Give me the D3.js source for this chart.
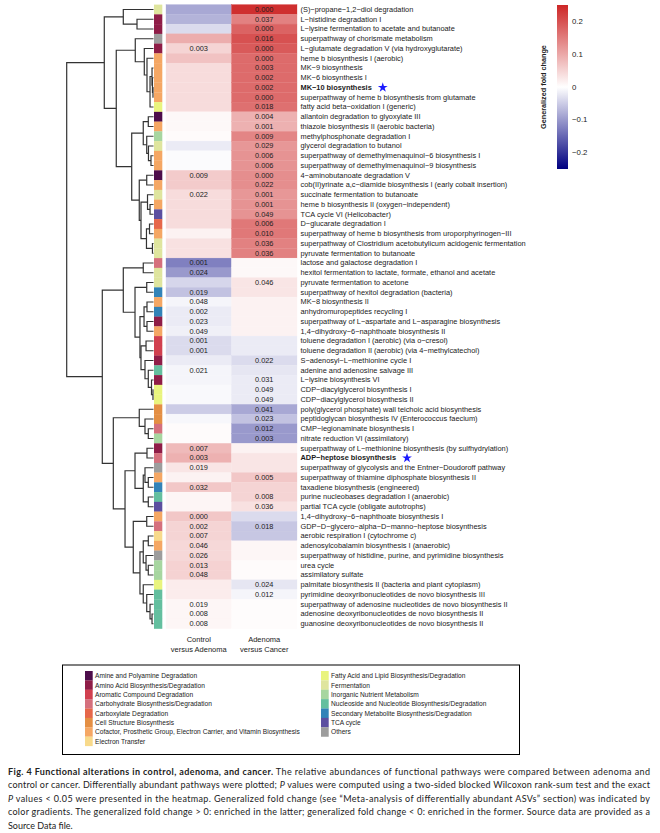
<!DOCTYPE html>
<html><head><meta charset="utf-8">
<script src="https://cdn.jsdelivr.net/npm/d3@7"></script>
<style>body{margin:0;background:#fff}svg{display:block}</style>
</head><body><svg id="chart" width="660" height="833"></svg>
<script>
// ---------------- data ----------------
const pathways = [
"(S)−propane−1,2−diol degradation","L−histidine degradation I","L−lysine fermentation to acetate and butanoate",
"superpathway of chorismate metabolism","L−glutamate degradation V (via hydroxyglutarate)","heme b biosynthesis I (aerobic)",
"MK−9 biosynthesis","MK−6 biosynthesis I","MK−10 biosynthesis","superpathway of heme b biosynthesis from glutamate",
"fatty acid beta−oxidation I (generic)","allantoin degradation to glyoxylate III","thiazole biosynthesis II (aerobic bacteria)",
"methylphosphonate degradation I","glycerol degradation to butanol","superpathway of demethylmenaquinol−6 biosynthesis I",
"superpathway of demethylmenaquinol−9 biosynthesis","4−aminobutanoate degradation V",
"cob(II)yrinate a,c−diamide biosynthesis I (early cobalt insertion)","succinate fermentation to butanoate",
"heme b biosynthesis II (oxygen−independent)","TCA cycle VI (Helicobacter)","D−glucarate degradation I",
"superpathway of heme b biosynthesis from uroporphyrinogen−III","superpathway of Clostridium acetobutylicum acidogenic fermentation",
"pyruvate fermentation to butanoate","lactose and galactose degradation I","hexitol fermentation to lactate, formate, ethanol and acetate",
"pyruvate fermentation to acetone","superpathway of hexitol degradation (bacteria)","MK−8 biosynthesis II",
"anhydromuropeptides recycling I","superpathway of L−aspartate and L−asparagine biosynthesis","1,4−dihydroxy−6−naphthoate biosynthesis II",
"toluene degradation I (aerobic) (via o−cresol)","toluene degradation II (aerobic) (via 4−methylcatechol)","S−adenosyl−L−methionine cycle I",
"adenine and adenosine salvage III","L−lysine biosynthesis VI","CDP−diacylglycerol biosynthesis I","CDP−diacylglycerol biosynthesis II",
"poly(glycerol phosphate) wall teichoic acid biosynthesis","peptidoglycan biosynthesis IV (Enterococcus faecium)",
"CMP−legionaminate biosynthesis I","nitrate reduction VI (assimilatory)","superpathway of L−methionine biosynthesis (by sulfhydrylation)",
"ADP−heptose biosynthesis","superpathway of glycolysis and the Entner−Doudoroff pathway","superpathway of thiamine diphosphate biosynthesis II",
"taxadiene biosynthesis (engineered)","purine nucleobases degradation I (anaerobic)","partial TCA cycle (obligate autotrophs)",
"1,4−dihydroxy−6−naphthoate biosynthesis I","GDP−D−glycero−alpha−D−manno−heptose biosynthesis","aerobic respiration I (cytochrome c)",
"adenosylcobalamin biosynthesis I (anaerobic)","superpathway of histidine, purine, and pyrimidine biosynthesis","urea cycle",
"assimilatory sulfate","palmitate biosynthesis II (bacteria and plant cytoplasm)","pyrimidine deoxyribonucleotides de novo biosynthesis III",
"superpathway of adenosine nucleotides de novo biosynthesis II","adenosine deoxyribonucleotides de novo biosynthesis II",
"guanosine deoxyribonucleotides de novo biosynthesis II"];

const highlighted = ["MK−10 biosynthesis","ADP−heptose biosynthesis"];

const categories = ["Amine and Polyamine Degradation","Amino Acid Biosynthesis/Degradation","Aromatic Compound Degradation",
"Carbohydrate Biosynthesis/Degradation","Carboxylate Degradation","Cell Structure Biosynthesis",
"Cofactor, Prosthetic Group, Electron Carrier, and Vitamin Biosynthesis","Electron Transfer",
"Fatty Acid and Lipid Biosynthesis/Degradation","Fermentation","Inorganic Nutrient Metabolism",
"Nucleoside and Nucleotide Biosynthesis/Degradation","Secondary Metabolite Biosynthesis/Degradation","TCA cycle","Others"];
const categoryColors = ["#4d0d4b","#8f1d47","#d1404f","#d5707d","#e6674a","#e48f44","#f5a764","#f8da8b",
"#e9f47e","#dfe59e","#a7d6a0","#64bf9f","#3283b8","#5c4fa0","#9d9d9d"];
// category index of each pathway row
const rowCategory = [9,1,1,14,1,6,6,6,6,6,8,0,6,10,9,6,6,0,6,9,6,13,4,6,9,9,3,9,9,12,6,12,1,6,2,2,1,11,1,8,8,5,5,3,10,1,3,14,6,12,11,13,6,3,7,6,14,10,10,8,11,11,11,11];

const columnLabels = [["Control","versus Adenoma"],["Adenoma","versus Cancer"]];
// generalized fold change
const foldControlAdenoma = [-0.085,-0.075,-0.035,0.095,0.05,0.07,0.04,0.04,0.04,0.04,0.04,0.008,0.008,0.005,-0.02,-0.004,-0.004,0.06,0.06,0.04,0.04,0.04,0.04,0.015,0.035,0.035,
-0.125,-0.1,-0.04,-0.06,-0.01,-0.02,-0.02,-0.015,-0.035,-0.035,-0.02,-0.01,-0.01,-0.006,-0.006,-0.05,-0.008,0.005,0.005,0.08,0.09,0.03,0.015,0.065,0.012,0.012,
0.065,0.05,0.05,0.045,0.045,0.052,0.052,0.022,0.022,0.01,0.01,0.01];
const foldAdenomaCancer = [0.24,0.145,0.18,0.2,0.19,0.17,0.17,0.17,0.17,0.17,0.165,0.09,0.09,0.14,0.12,0.125,0.125,0.13,0.13,0.12,0.125,0.125,0.155,0.155,0.145,0.145,
0.008,0.008,0.03,0.03,0.015,0.015,0.015,0.015,-0.02,-0.02,-0.035,-0.025,-0.02,-0.02,-0.02,-0.085,-0.06,-0.1,-0.1,0.015,0.03,0.03,0.065,0.05,0.05,0.035,
-0.035,-0.055,-0.055,0.01,0.01,0.005,0.005,-0.025,-0.01,0.004,0.004,0.004];
// exact P values < 0.05 (null = not shown)
const pControlAdenoma = [null,null,null,null,"0.003",null,null,null,null,null,null,null,null,null,null,null,null,"0.009",null,"0.022",null,null,null,null,null,null,
"0.001","0.024",null,"0.019","0.048","0.002","0.023","0.049","0.001","0.001",null,"0.021",null,null,null,null,null,null,null,"0.007","0.003","0.019",null,"0.032",null,null,
"0.000","0.002","0.007","0.046","0.026","0.013","0.048",null,null,"0.019","0.008","0.008"];
const pAdenomaCancer = ["0.000","0.037","0.000","0.016","0.000","0.000","0.003","0.002","0.002","0.000","0.018","0.004","0.001","0.009","0.029","0.006","0.006","0.000","0.022","0.001","0.001","0.049","0.006","0.010","0.036","0.036",
null,null,"0.046",null,null,null,null,null,null,null,"0.022",null,"0.031","0.049","0.049","0.041","0.023","0.012","0.003",null,null,null,"0.005",null,"0.008","0.036",
null,"0.018",null,null,null,null,null,"0.024","0.012",null,null,null];

const colorbarTicks = [0.2,0.1,0,-0.1,-0.2];
const colorbarTitle = "Generalized fold change";

// row dendrogram: [height, left, right]; leaves are row numbers (1-based)
const dendrogram = [1.0,
  [0.567,
    [0.348, 1, [0.19, 2, 3]],
    [0.429,
      [0.21, 4, [0.106, 5, [0.075, 6, [0.04, [0.017, 7, [0.012, 8, [0.006, 9, 10]]], 11]]]],
      [0.251,
        [0.118, [0.06, 12, 13], [0.078, 14, [0.058, 15, [0.029, 16, 17]]]],
        [0.164, [0.078, 18, 19], [0.144, [0.069, 20, [0.04, 21, 22]], [0.081, [0.046, 23, 24], [0.012, 25, 26]]]]]]],
  [0.59,
    [0.348, [0.118, 27, 28], [0.213, [0.078, 29, 30], [0.156, [0.109, [0.075, 31, 32], [0.075, 33, 34]],
        [0.144, [0.086, 35, 36], [0.098, 37, [0.06, 38, [0.023, 39, [0.006, 40, 41]]]]]]]],
    [0.463,
      [0.164, 42, [0.098, 43, [0.06, 44, 45]]],
      [0.328,
        [0.213, [0.075, 46, 47], [0.118, [0.098, 48, [0.06, 49, 50]], [0.06, 51, 52]]],
        [0.233, [0.078, 53, 54], [0.156, [0.118, [0.06, 55, 56], [0.086, 57, [0.06, 58, 59]]],
          [0.118, 60, [0.078, 61, [0.04, 62, [0.017, 63, 64]]]]]]]]]];

const captionLines = [
  [{t:"Fig. 4 Functional alterations in control, adenoma, and cancer.", b:1},{t:" The relative abundances of functional pathways were compared between adenoma and"}],
  [{t:"control or cancer. Differentially abundant pathways were plotted; "},{t:"P",i:1},{t:" values were computed using a two-sided blocked Wilcoxon rank-sum test and the exact"}],
  [{t:"P",i:1},{t:" values < 0.05 were presented in the heatmap. Generalized fold change (see “Meta-analysis of differentially abundant ASVs” section) was indicated by"}],
  [{t:"color gradients. The generalized fold change > 0: enriched in the latter; generalized fold change < 0: enriched in the former. Source data are provided as a"}],
  [{t:"Source Data file."}]
];

// ---------------- drawing ----------------
const svg = d3.select("#chart");
const FONT = "'Liberation Sans', Arial, Helvetica, sans-serif";
svg.append("rect").attr("width",660).attr("height",833).attr("fill","#fff");

// font size that makes a sample string span a given width (matches the figure's scaling)
function fitSize(sample, width, weight){
  const t = svg.append("text").attr("font-family",FONT).attr("font-size",10)
    .attr("font-weight",weight||"normal").text(sample);
  const len = t.node().getComputedTextLength(); t.remove();
  return 10*width/len;
}
const FS_LABEL = fitSize("superpathway of L−aspartate and L−asparagine biosynthesis", 200);
const FS_P = fitSize("0.000", 18.5);
const FS_LEG = fitSize("Cofactor, Prosthetic Group, Electron Carrier, and Vitamin Biosynthesis", 205);
const FS_COL = fitSize("versus Adenoma", 56);
const FS_TICK = fitSize("−0.2", 15.5);
const FS_TITLE = fitSize(colorbarTitle, 84, "bold");

const nRows = pathways.length;
const y = d3.scaleBand().domain(d3.range(nRows)).range([4.6, 628.6]);
const x = d3.scaleBand().domain([0,1]).range([166, 297]);
const color = d3.scaleLinear().domain([-0.25,0,0.25]).range(["#000080","#ffffff","#cd2626"]);
const cols = [foldControlAdenoma, foldAdenomaCancer];
const pcols = [pControlAdenoma, pAdenomaCancer];

// heatmap cells
const cells = [];
cols.forEach((arr,c)=>arr.forEach((v,r)=>cells.push({c,r,v,p:pcols[c][r]})));
svg.append("g").selectAll("rect").data(cells).join("rect")
  .attr("x",d=>x(d.c)).attr("y",d=>y(d.r)).attr("width",x.bandwidth()).attr("height",y.bandwidth())
  .attr("fill",d=>color(d.v)).attr("stroke",d=>color(d.v)).attr("stroke-width",0.3);
svg.append("g").selectAll("text").data(cells.filter(d=>d.p)).join("text")
  .attr("x",d=>x(d.c)+x.bandwidth()/2).attr("y",d=>y(d.r)+y.bandwidth()/2)
  .attr("text-anchor","middle").attr("dominant-baseline","central")
  .attr("font-family",FONT).attr("font-size",FS_P).attr("fill","#222").text(d=>d.p);

// category strip
svg.append("g").selectAll("rect").data(rowCategory).join("rect")
  .attr("x",154).attr("width",8.3).attr("y",(d,i)=>y(i)).attr("height",y.bandwidth()+0.2)
  .attr("fill",d=>categoryColors[d]);

// row labels
const labels = svg.append("g").selectAll("text").data(pathways).join("text")
  .attr("x",300.5).attr("y",(d,i)=>y(i)+y.bandwidth()/2).attr("dominant-baseline","central")
  .attr("font-family",FONT).attr("font-size",FS_LABEL).attr("fill","#1a1a1a")
  .attr("font-weight",d=>highlighted.includes(d)?"bold":"normal").text(d=>d);
labels.filter(d=>highlighted.includes(d)).each(function(d){
  const len = this.getComputedTextLength();
  const r = pathways.indexOf(d);
  svg.append("path").attr("d",d3.symbol(d3.symbolStar).size(30)())
    .attr("transform",`translate(${300.5+len+11},${y(r)+y.bandwidth()/2})`).attr("fill","#1a1aff");
});

// dendrogram
const root = d3.hierarchy(dendrogram, d=>Array.isArray(d)? d.slice(1): null);
const hx = d3.scaleLinear().domain([0,1]).range([153.5,66.7]);
root.eachAfter(n=>{
  if(!n.children){ n.px = hx(0); n.py = y(n.data-1)+y.bandwidth()/2; }
  else { n.px = hx(n.data[0]); n.py = d3.mean(n.children,c=>c.py); }
});
const links = [];
root.each(n=>{ if(n.children){ const [a,b]=n.children;
  links.push(`M${a.px},${a.py}H${n.px}V${b.py}H${b.px}`);} });
svg.append("g").selectAll("path").data(links).join("path").attr("d",d=>d)
  .attr("fill","none").attr("stroke","#333").attr("stroke-width",1.2);

// column labels
columnLabels.forEach((lines,c)=>{
  lines.forEach((t,k)=>svg.append("text").attr("x",x(c)+x.bandwidth()/2).attr("y",642+k*10)
    .attr("text-anchor","middle").attr("font-family",FONT).attr("font-size",FS_COL).attr("fill","#222").text(t));
});

// colorbar
const cb = d3.scaleLinear().domain([-0.25,0.25]).range([169,5]);
const grad = svg.append("defs").append("linearGradient").attr("id","cbgrad")
  .attr("x1",0).attr("x2",0).attr("y1",1).attr("y2",0);
d3.range(0,1.0001,0.05).forEach(t=>grad.append("stop").attr("offset",t).attr("stop-color",color(-0.25+0.5*t)));
svg.append("rect").attr("x",557).attr("y",cb(0.25)).attr("width",11).attr("height",cb(-0.25)-cb(0.25)).attr("fill","url(#cbgrad)");
svg.append("g").selectAll("text").data(colorbarTicks).join("text")
  .attr("x",572).attr("y",d=>cb(d)).attr("dominant-baseline","central")
  .attr("font-family",FONT).attr("font-size",FS_TICK).attr("fill","#222")
  .text(d=>d===0?"0":d3.format(".1f")(d).replace("-","−"));
svg.append("text").attr("transform",`translate(543.5,${cb(0)}) rotate(-90)`).attr("text-anchor","middle")
  .attr("dominant-baseline","central").attr("font-family",FONT).attr("font-size",FS_TITLE).attr("font-weight","bold")
  .attr("fill","#222").text(colorbarTitle);

// legend
svg.append("rect").attr("x",62.5).attr("y",665).attr("width",457).attr("height",89.5)
  .attr("fill","none").attr("stroke","#000").attr("stroke-width",1);
const legendCols = [{x:85, items:d3.range(0,8)},{x:321, items:d3.range(8,15)}];
legendCols.forEach(col=>{
  const g = svg.append("g");
  g.selectAll("rect").data(col.items).join("rect").attr("x",col.x).attr("width",7.7)
    .attr("y",(d,i)=>671+i*9.375).attr("height",9.5).attr("fill",d=>categoryColors[d]);
  g.selectAll("text").data(col.items).join("text").attr("x",col.x+10).attr("y",(d,i)=>671+i*9.375+4.7)
    .attr("dominant-baseline","central").attr("font-family",FONT).attr("font-size",FS_LEG).attr("fill","#222")
    .text(d=>categories[d]);
});

// caption
captionLines.forEach((parts,k)=>{
  const t = svg.append("text").attr("x",8).attr("y",775+k*13.4)
    .attr("font-family","Lato, 'Open Sans', sans-serif").attr("font-size",9).attr("fill","#222");
  parts.forEach(p=>t.append("tspan").attr("font-weight",p.b?"bold":"normal")
    .attr("font-style",p.i?"italic":"normal").text(p.t));
  if(k<captionLines.length-1) t.attr("textLength",642).attr("lengthAdjust","spacing");
});
</script></body></html>
